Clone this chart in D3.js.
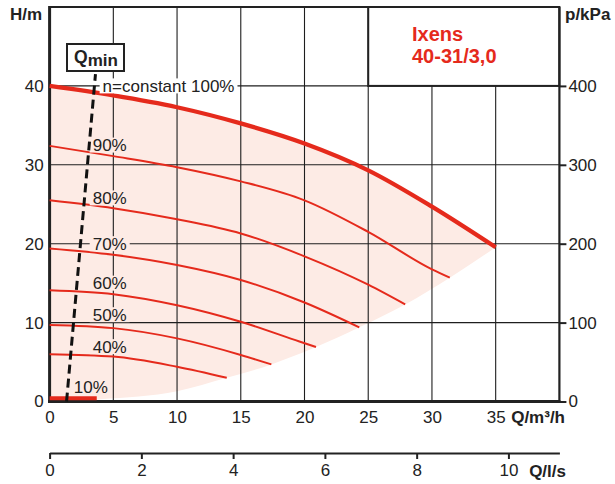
<!DOCTYPE html>
<html><head><meta charset="utf-8">
<script src="https://cdn.jsdelivr.net/npm/d3@7"></script>
<style>
html,body{margin:0;padding:0;background:#fff;}
svg{display:block;font-family:"Liberation Sans",Arial,Helvetica,sans-serif;}
</style></head><body>
<svg id="chart" width="615" height="484"></svg>
<script>
// Axis ticks
const flowTicks = [0, 5, 10, 15, 20, 25, 30, 35];        // Q in m³/h
const headTicks = [0, 10, 20, 30, 40];                    // H in m
const pressureTicks = [0, 100, 200, 300, 400];            // p in kPa
const litreTicks = [0, 2, 4, 6, 8, 10];                   // Q in l/s

// Pump curves, [Q m³/h, H m]
const speed100 = [[0,40],[5,38.8],[10,37.3],[15,35.25],[20,32.7],[25,29.3],[30,24.7],[35,19.55]];
const speed90  = [[0,32.4],[5,31.1],[10,29.7],[15,27.9],[20,25.5],[25,21.5],[30,16.75],[31.4,15.7]];
const speed80  = [[0,25.5],[5,24.5],[10,23.1],[15,21.3],[20,18.4],[25,14.8],[27.9,12.3]];
const speed70  = [[0,19.4],[5,18.6],[10,17.3],[15,15.4],[20,12.55],[24.3,9.4]];
const speed60  = [[0,14.1],[5,13.6],[10,12.2],[15,10.1],[19.6,7.6],[20.9,6.9]];
const speed50  = [[0,9.7],[5,9.3],[10,8.0],[15,5.9],[17.4,4.7]];
const speed40  = [[0,6.0],[5,5.7],[10,4.4],[13.9,3.0]];
const speed10  = [[0,0.4],[3.7,0.4]];
// Lower edge of the operating range
const rangeFloor = [[0,0],[4,0.3],[10,1.3],[13.9,3.0],[17.4,4.7],[20.9,6.9],[24.3,9.4],[27.9,12.3],[31.4,15.7],[35,19.55]];
// Minimum flow line
const qminLine = [[1.33,0],[3.6,41.5]];

const speedCurves = [speed90, speed80, speed70, speed60, speed50, speed40];
const speedNames = ["90%", "80%", "70%", "60%", "50%", "40%"];
const speedLabelAt = [[3.38,32.5],[3.38,25.8],[3.38,20.0],[3.38,15.0],[3.38,11.0],[3.38,6.95]];

const RED = "#e52a1c", PINK = "#fdebe5", INK = "#222";

const svg = d3.select("#chart");
const x = d3.scaleLinear([0, 40], [49.6, 559.4]);
const y = d3.scaleLinear([0, 50], [401.5, 7]);
const yP = d3.scaleLinear([0, 500], [401.5, 7]);
const xL = d3.scaleLinear([0, 40 / 3.6], [49.6, 559.4]);

const line = d3.line().x(d => x(d[0])).y(d => y(d[1])).curve(d3.curveMonotoneX);
const areaUnder = d3.area().x(d => x(d[0])).y0(y(0)).y1(d => y(d[1])).curve(d3.curveMonotoneX);

// Operating range fill
svg.append("path").attr("d", areaUnder(speed100)).attr("fill", PINK);
svg.append("path").attr("d", areaUnder(rangeFloor)).attr("fill", "#fff");

// Grid
const grid = svg.append("g").attr("stroke", "#1e1e1e").attr("stroke-width", 1.1);
flowTicks.filter(d => d > 0).forEach(d => {
  grid.append("line").attr("x1", x(d)).attr("x2", x(d)).attr("y1", y(50)).attr("y2", y(0));
});
headTicks.filter(d => d > 0).forEach(d => {
  grid.append("line").attr("x1", x(0)).attr("x2", x(40)).attr("y1", y(d)).attr("y2", y(d));
});

// Title box
svg.append("rect").attr("x", x(25)).attr("y", y(50)).attr("width", x(40) - x(25)).attr("height", y(40) - y(50))
  .attr("fill", "#fff").attr("stroke", INK).attr("stroke-width", 2);
svg.append("text").attr("x", 412).attr("y", 40.7).attr("fill", RED).attr("font-weight", "bold").attr("font-size", 20).text("Ixens");
svg.append("text").attr("x", 412).attr("y", 63.3).attr("fill", RED).attr("font-weight", "bold").attr("font-size", 20).text("40-31/3,0");

// Frame
const frame = svg.append("g").attr("stroke", INK).attr("fill", "none");
frame.append("line").attr("x1", x(0)).attr("x2", x(40)).attr("y1", y(50)).attr("y2", y(50)).attr("stroke-width", 2);
frame.append("line").attr("x1", x(40)).attr("x2", x(40)).attr("y1", y(50)).attr("y2", y(0)).attr("stroke-width", 2.2);
frame.append("line").attr("x1", x(0)).attr("x2", x(0)).attr("y1", y(50) - 1).attr("y2", y(0) + 1.5).attr("stroke-width", 3);
frame.append("line").attr("x1", x(0) - 1.5).attr("x2", x(40) + 1).attr("y1", y(0)).attr("y2", y(0)).attr("stroke-width", 3);

// Axes
function styleAxis(g) {
  g.attr("font-family", null).attr("font-size", null);
  g.selectAll("text").attr("font-size", 17).attr("fill", INK);
  g.selectAll("line").attr("stroke", INK);
}
svg.append("g").attr("transform", `translate(${x(0)},0)`)
  .call(d3.axisLeft(y).tickValues(headTicks).tickSize(0).tickPadding(6))
  .call(g => g.select(".domain").remove()).call(styleAxis);
svg.append("g").attr("transform", `translate(${x(40)},0)`)
  .call(d3.axisRight(yP).tickValues(pressureTicks).tickSize(7).tickPadding(2))
  .call(g => g.select(".domain").remove()).call(styleAxis)
  .call(g => g.selectAll("line").attr("stroke-width", 2));
svg.append("g").attr("transform", `translate(0,${y(0)})`)
  .call(d3.axisBottom(x).tickValues(flowTicks).tickSize(0).tickPadding(9))
  .call(g => g.select(".domain").remove()).call(styleAxis);
svg.append("g").attr("transform", "translate(0,453)")
  .call(d3.axisBottom(xL).tickValues(litreTicks).tickSize(6).tickSizeOuter(0).tickPadding(5))
  .call(styleAxis)
  .call(g => g.select(".domain").attr("stroke", INK).attr("stroke-width", 2))
  .call(g => g.selectAll(".tick line").attr("stroke-width", 2));

// Axis titles
const title = (tx, ty, s, anchor) => svg.append("text").attr("x", tx).attr("y", ty)
  .attr("font-weight", "bold").attr("font-size", 17).attr("fill", INK).attr("text-anchor", anchor || "start").text(s);
title(10, 19.5, "H/m");
title(565, 19.5, "p/kPa");
title(565, 422.5, "Q/m³/h", "end");
title(566, 477, "Q/l/s", "end");

// Reduced-speed curves
speedCurves.forEach(c => {
  svg.append("path").attr("d", line(c)).attr("fill", "none").attr("stroke", RED).attr("stroke-width", 2);
});
svg.append("path").attr("d", line(speed10)).attr("fill", "none").attr("stroke", RED).attr("stroke-width", 4);
svg.append("path").attr("d", line(speed100)).attr("fill", "none").attr("stroke", RED).attr("stroke-width", 4.2);

// Curve labels with knock-out backgrounds
function label(q, h, s, bg) {
  const g = svg.append("g");
  const t = g.append("text").attr("x", x(q)).attr("y", y(h) + 6.1)
    .attr("font-size", 17).attr("fill", INK).text(s);
  const b = t.node().getBBox();
  g.insert("rect", "text").attr("x", b.x - 3).attr("y", y(h) - 7.5).attr("width", b.width + 6).attr("height", 15).attr("fill", bg);
}
speedNames.forEach((s, i) => label(speedLabelAt[i][0], speedLabelAt[i][1], s, PINK));
label(1.9, 1.85, "10%", PINK);
label(4.16, 40.0, "n=constant 100%", "#fff");

// Minimum flow line and its tag
svg.append("path").attr("d", d3.line().x(d => x(d[0])).y(d => y(d[1]))(qminLine))
  .attr("fill", "none").attr("stroke", "#111").attr("stroke-width", 3).attr("stroke-dasharray", "9 5");
svg.append("rect").attr("x", 67).attr("y", 44).attr("width", 57).attr("height", 27)
  .attr("fill", "#fff").attr("stroke", INK).attr("stroke-width", 2);
const qt = svg.append("text").attr("x", 74).attr("y", 62.7).attr("font-weight", "bold").attr("font-size", 17.5).attr("fill", INK);
qt.append("tspan").text("Q");
qt.append("tspan").attr("dy", 3).attr("font-size", 17).text("min");
</script>
</body></html>
